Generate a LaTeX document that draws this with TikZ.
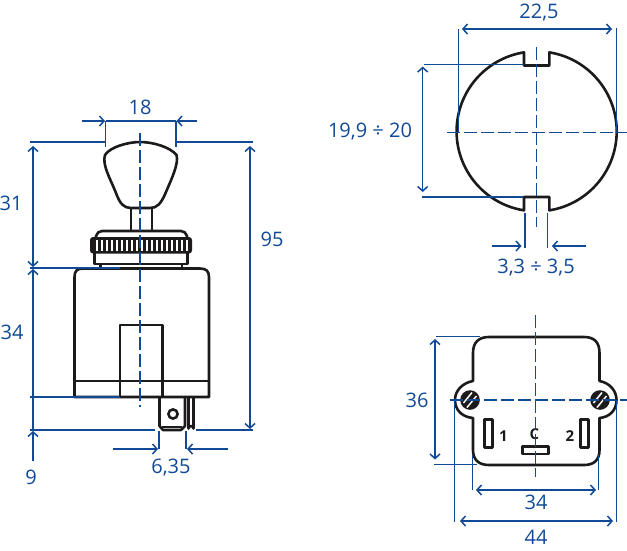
\documentclass[tikz,border=0pt]{standalone}
\usepackage{fontspec}
\setmainfont{Open Sans}
\usetikzlibrary{arrows.meta}
\definecolor{dimblue}{RGB}{16,74,150}
\definecolor{partblack}{RGB}{28,26,27}
\tikzset{
	part/.style={partblack,line width=2.6pt,line join=round},
	thinpart/.style={partblack,line width=1.4pt},
	dimline/.style={dimblue,line width=1.3pt},
	dimarrow/.style={dimline,>={Straight Barb[length=4.5pt,width=10pt,line width=1.5pt]}},
	axisline/.style={dimblue,line width=1.3pt,dash pattern=on 13pt off 4pt},
	dimlabel/.style={dimblue,inner sep=0pt,font=\fontsize{20}{23}\selectfont},
	pinlabel/.style={partblack,inner sep=0pt,font=\fontsize{15}{17}\selectfont\bfseries}
}
\begin{document}
\begin{tikzpicture}[x=1pt,y=-1pt]
	\useasboundingbox (0,0) rectangle (627,550);
	% side view
	\draw[part] (105,155) .. controls (110,147) and (128,142) .. (140,142) .. controls (153,142) and (170,147) .. (176.5,155) .. controls (179,163) and (172,178) .. (166,192) .. controls (161,204) and (157,208) .. (150,208) -- (131,208) .. controls (124,208) and (120,204) .. (116,193) .. controls (110,178) and (102,165) .. (105,155) -- cycle;
	\draw[part] (131,208) -- (131,230) (152,208) -- (152,230);
	\draw[part] (96,237) -- (96,236) .. controls (97,233) and (99,231) .. (102,231) -- (181,231) .. controls (184,231) and (186,233) .. (187,236) -- (187,237);
	\fill[partblack,rounded corners=3pt] (90,237) rectangle (192,253.5);
	\foreach \tx in {97,102,...,187} {
		\draw[white,line width=1.9pt] (\tx,240) -- (\tx,251);
	}
	\draw[part] (94.5,253) -- (94.5,264) -- (187.5,264) -- (187.5,253);
	\draw[part] (100.5,264) -- (100.5,268) (182,264) -- (182,268);
	\draw[part] (74.5,397) -- (74.5,277) .. controls (74.5,271) and (77,268.5) .. (83,268.5) -- (200,268.5) .. controls (206,268.5) and (209,271) .. (209,277) -- (209,397) -- cycle;
	\draw[part] (74.5,381) -- (209,381);
	\draw[part] (120,397) -- (120,325) -- (162.5,325) -- (162.5,397);
	\draw[part] (159.5,397) -- (159.5,426) -- (163,430) -- (181,430) -- (185,426) -- (185,397);
	\draw[thinpart] (162,427) -- (182,427);
	\draw[part] (173,414) circle (4.6);
	\draw[part] (188.5,397) -- (188.5,428.5) arc (180:0:2.5 and -2.5) -- (193.5,397);
	% dimensions of the side view
	\draw[axisline] (140,133) -- (140,407);
	\draw[dimline] (105.5,121) -- (105.5,147) (176,121) -- (176,147);
	\draw[dimarrow,->] (82,121) -- (105,121);
	\draw[dimarrow,->] (197,121) -- (176.5,121);
	\draw[dimline] (105.5,121) -- (176,121);
	\draw[dimline] (30,142) -- (105,142) (176,142) -- (253,142);
	\draw[dimline] (30,268) -- (120,268) (30,397) -- (120,397);
	\draw[dimline] (30,430) -- (155,430) (196,430) -- (253,430);
	\draw[dimarrow,<->] (33,146) -- (33,267);
	\draw[dimarrow,<-] (33,269) -- (33,396);
	\draw[dimline] (33,396) -- (33,430);
	\draw[dimarrow,<-] (33,431) -- (33,461);
	\draw[dimarrow,<->] (250,146) -- (250,429);
	\draw[dimline] (159,431) -- (159,449) (186,431) -- (186,449);
	\draw[dimarrow,->] (113,449) -- (158,449);
	\draw[dimarrow,->] (228,449) -- (187,449);
	\node[dimlabel] (lblknob) at (140,107) {18};
	\node[dimlabel] (lblupper) at (11,203) {31};
	\node[dimlabel] (lbltotal) at (272,239) {95};
	\node[dimlabel] (lblbody) at (12,332) {34};
	\node[dimlabel] (lblpin) at (31,477) {9};
	\node[dimlabel] (lblblade) at (171,468) {6,35};
	% panel cut-out
	\draw[part] (549.3,52.35) arc (-80.94:80.94:80) -- (549.3,197) -- (524,197) -- (524,210.35) arc (99.06:260.94:80) -- (524,65.5) -- (549.3,65.5) -- cycle;
	\draw[axisline] (447,132.7) -- (627,132.7);
	\draw[axisline] (536.7,47) -- (536.7,227);
	\draw[dimline] (458.5,29) -- (458.5,133) (616.7,28) -- (616.7,133);
	\draw[dimarrow,<->] (462,29) -- (612,29);
	\draw[dimline] (424,64.5) -- (524,64.5) (422,197) -- (523,197);
	\draw[dimarrow,<->] (422.7,66.5) -- (422.7,192);
	\draw[dimline] (525,213) -- (525,248) (547.7,213) -- (547.7,248);
	\draw[dimarrow,->] (492,246) -- (521.5,246);
	\draw[dimarrow,->] (586,246) -- (552,246);
	\node[dimlabel] (lblwidth) at (539,13) {22,5};
	\node[dimlabel] (lblheight) at (370,132) {19,9 ÷ 20};
	\node[dimlabel] (lblnotch) at (536,268) {3,3 ÷ 3,5};
	% rear view
	\draw[part] (473,381) -- (473,353) .. controls (473,342) and (479,337) .. (489,337) -- (584,337) .. controls (594,337) and (599.5,342) .. (599.5,353) -- (599.5,381) .. controls (610,383) and (616.5,391) .. (616.5,400) .. controls (616.5,410) and (610,417) .. (599.5,418) -- (599.5,450) .. controls (599.5,460) and (594,465) .. (584,465) -- (489,465) .. controls (479,465) and (473,460) .. (473,450) -- (473,418) .. controls (462,417) and (455,410) .. (455,400) .. controls (455,391) and (462,383) .. (473,381) -- cycle;
	\foreach \sx in {470,600} {
		\fill[partblack] (\sx,400) circle (9.8);
		\draw[white,line width=1.5pt] (\sx-6.5,403) -- (\sx+2,392.5);
		\draw[white,line width=1.5pt] (\sx-3,407.5) -- (\sx+6.5,396);
	}
	\draw[part] (484.5,419.5) rectangle (492.3,447.5);
	\draw[part] (580.3,419.5) rectangle (588.3,447.5);
	\draw[part] (522.7,446.5) rectangle (548.3,454);
	\node[pinlabel] (lblone) at (503.5,436.5) {1};
	\node[pinlabel] (lblcom) at (534.5,434.5) {C};
	\node[pinlabel] (lbltwo) at (570,436.5) {2};
	\draw[axisline] (450,400) -- (627,400);
	\draw[axisline] (535.7,315) -- (535.7,477);
	\draw[dimline] (436,336.6) -- (480,336.6) (434,464.3) -- (477,464.3);
	\draw[dimarrow,<->] (435,339) -- (435,459.5);
	\draw[dimline] (472.3,455) -- (472.3,490) (598.7,455) -- (598.7,490);
	\draw[dimarrow,<->] (476,490) -- (596,490);
	\draw[dimline] (454.3,400) -- (454.3,522) (616.3,400) -- (616.3,522);
	\draw[dimarrow,<->] (460,521) -- (613,521);
	\node[dimlabel] (lblheightb) at (417,400) {36};
	\node[dimlabel] (lblpitch) at (536,502) {34};
	\node[dimlabel] (lbloverall) at (536,537) {44};
\end{tikzpicture}
\end{document}
